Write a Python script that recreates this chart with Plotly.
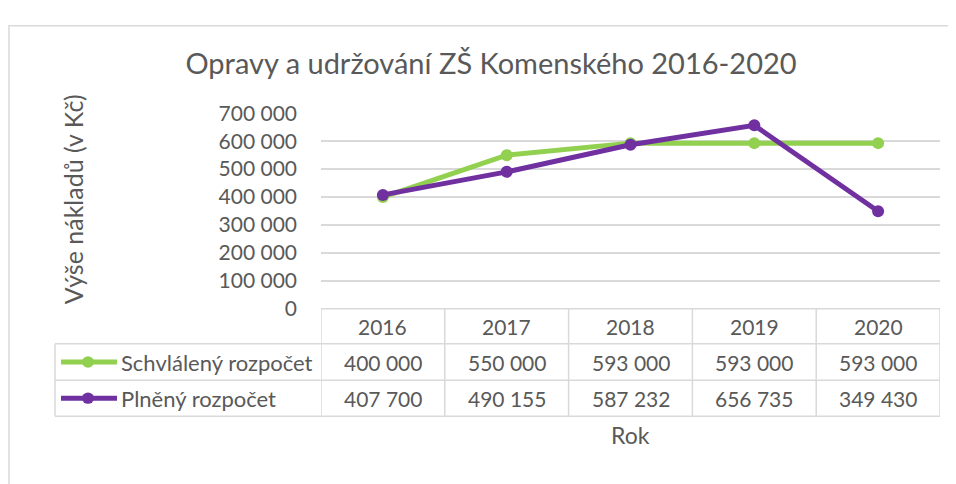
import plotly.graph_objects as go

# ---- data ----
years = ["2016", "2017", "2018", "2019", "2020"]
schvaleny = [400000, 550000, 593000, 593000, 593000]
plneny = [407700, 490155, 587232, 656735, 349430]
series_names = ["Schvlálený rozpočet", "Plněný rozpočet"]
series_colors = ["#92D050", "#7030A0"]
y_ticks = [0, 100000, 200000, 300000, 400000, 500000, 600000, 700000]
title_text = "Opravy a udržování ZŠ Komenského 2016-2020"
y_title = "Výše nákladů (v Kč)"
x_title = "Rok"

OFF = 8  # page body margin
W, H = 956 - OFF, 484 - OFF
FONT = "Lato"
TXT = "#595959"
GRID = "#d9d9d9"


def fmt(v):
    return f"{v:,}".replace(",", " ")


def px(x):
    return (x - OFF) / W


def py(y):
    return 1 - (y - OFF) / H


X0, X1 = 321, 940          # plot area left/right (screen px)
Y0, Y700 = 310.7, 104.3    # screen y of value 0 and 700000
ROW = [310.7, 347.7, 386.0, 424.0]  # table row boundaries
LEG_LEFT = 55

fig = go.Figure()
all_series = [schvaleny, plneny]
for name, vals, col in zip(series_names, all_series, series_colors):
    fig.add_trace(go.Scatter(
        x=list(range(len(years))), y=vals, name=name, mode="lines+markers",
        line=dict(color=col, width=5),
        marker=dict(color=col, size=12),
        showlegend=False, cliponaxis=False,
    ))

shapes = []
annotations = []

# outer chart border
shapes.append(dict(type="rect", xref="paper", yref="paper",
                   x0=px(9), x1=1.05, y0=-0.1, y1=py(12),
                   line=dict(color=GRID, width=1.5), fillcolor="rgba(0,0,0,0)"))

n = len(years)
for i in range(n + 1):
    shapes.append(dict(type="line", xref="x", yref="paper",
                       x0=i - 0.5, x1=i - 0.5, y0=py(ROW[0]), y1=py(ROW[3]),
                       line=dict(color=GRID, width=1.5)))
shapes.append(dict(type="line", xref="paper", yref="paper",
                   x0=px(LEG_LEFT), x1=px(LEG_LEFT), y0=py(ROW[1]), y1=py(ROW[3]),
                   line=dict(color=GRID, width=1.5)))
shapes.append(dict(type="line", xref="paper", yref="paper",
                   x0=px(X0), x1=px(X1), y0=py(ROW[0]), y1=py(ROW[0]),
                   line=dict(color=GRID, width=1.5)))
for r in ROW[1:]:
    shapes.append(dict(type="line", xref="paper", yref="paper",
                       x0=px(LEG_LEFT), x1=px(X1), y0=py(r), y1=py(r),
                       line=dict(color=GRID, width=1.5)))

# year row
yc0 = (ROW[0] + ROW[1]) / 2
for i, yr in enumerate(years):
    annotations.append(dict(x=i, xref="x", y=py(yc0), yref="paper",
                            text=yr, showarrow=False, xanchor="center", yanchor="middle",
                            font=dict(family=FONT, size=21, color=TXT)))

# series rows
for k, (name, vals, col) in enumerate(zip(series_names, all_series, series_colors)):
    yc = (ROW[k + 1] + ROW[k + 2]) / 2
    shapes.append(dict(type="line", xref="paper", yref="paper",
                       x0=px(61), x1=px(117), y0=py(yc), y1=py(yc),
                       line=dict(color=col, width=5)))
    shapes.append(dict(type="circle", xref="paper", yref="paper",
                       x0=px(88 - 6), x1=px(88 + 6), y0=py(yc + 6), y1=py(yc - 6),
                       line=dict(color=col, width=0), fillcolor=col))
    annotations.append(dict(x=px(119), xref="paper", y=py(yc), yref="paper",
                            text=name, showarrow=False, xanchor="left", yanchor="middle",
                            font=dict(family=FONT, size=22, color=TXT)))
    for i, v in enumerate(vals):
        annotations.append(dict(x=i, xref="x", y=py(yc), yref="paper",
                                text=fmt(v), showarrow=False, xanchor="center", yanchor="middle",
                                font=dict(family=FONT, size=21, color=TXT)))

# axis titles
annotations.append(dict(x=px(73), xref="paper", y=py(195), yref="paper",
                        text=y_title, textangle=-90, showarrow=False,
                        xanchor="center", yanchor="middle",
                        font=dict(family=FONT, size=25, color=TXT)))
annotations.append(dict(x=px(630), xref="paper", y=py(444), yref="paper",
                        text=x_title, showarrow=False, xanchor="center", yanchor="middle",
                        font=dict(family=FONT, size=23, color=TXT)))

fig.update_layout(
    width=W, height=H,
    margin=dict(l=0, r=0, t=0, b=0),
    paper_bgcolor="white", plot_bgcolor="white",
    title=dict(text=title_text, x=px(491), xanchor="center", xref="paper",
               y=py(52), yanchor="middle", yref="paper",
               font=dict(family=FONT, size=29, color=TXT)),
    xaxis=dict(domain=[px(X0), px(X1)], range=[-0.5, n - 0.5],
               showticklabels=False, showgrid=False, zeroline=False,
               showline=False, ticks=""),
    yaxis=dict(domain=[py(Y0), py(Y700)], range=[0, 700000],
               tickvals=y_ticks, ticktext=[fmt(v) for v in y_ticks],
               showgrid=True, gridcolor=GRID, gridwidth=1.5,
               zeroline=False, showline=False, ticks="",
               ticklabelstandoff=23,
               tickfont=dict(family=FONT, size=21, color=TXT)),
    shapes=shapes, annotations=annotations,
    showlegend=False,
)

fig.write_html("out.html")
